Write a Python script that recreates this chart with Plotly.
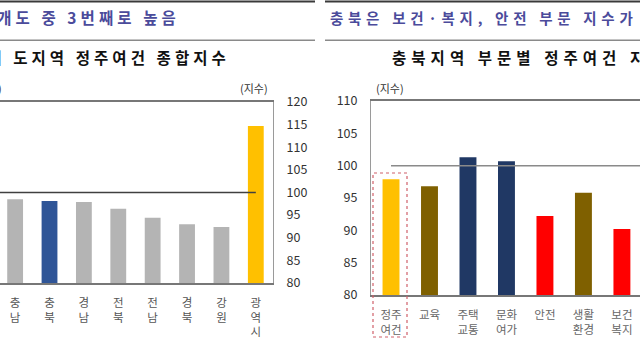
import plotly.graph_objects as go

# ---- data ----
left_cats = ["충<br>남", "충<br>북", "경<br>남", "전<br>북", "전<br>남", "경<br>북", "강<br>원", "광<br>역<br>시"]
left_vals = [98.5, 98.1, 97.9, 96.4, 94.4, 93.0, 92.4, 114.7]
left_colors = ["#b4b4b4", "#2f5597", "#b4b4b4", "#b4b4b4", "#b4b4b4", "#b4b4b4", "#b4b4b4", "#ffc000"]
left_ticks = [80, 85, 90, 95, 100, 105, 110, 115, 120]

right_cats = ["정주<br>여건", "교육", "주택<br>교통", "문화<br>여가", "안전", "생활<br>환경", "보건<br>복지"]
right_vals = [97.9, 96.8, 101.3, 100.7, 92.2, 95.8, 90.2]
right_colors = ["#ffc000", "#7f6000", "#203864", "#203864", "#ff0000", "#7f6000", "#ff0000"]
right_ticks = [80, 85, 90, 95, 100, 105, 110]

baseline = 100

W, H = 640, 360
def px(x): return x / W
def py(y): return 1 - y / H

THIN = "\u2009"
WIDE = "\u2009\u200a"
WIDER = "\u2009\u200a\u200a"
def spaced(s, sep=THIN):
    # emulate letter-spacing with thin spaces
    return sep.join(list(s.replace(" ", "\u00a0")))

FONT = "Noto Sans CJK KR"

fig = go.Figure()
fig.add_trace(go.Bar(x=left_cats, y=left_vals, marker=dict(color=left_colors, line=dict(width=0)),
                     width=0.46, xaxis="x", yaxis="y", showlegend=False, hoverinfo="skip"))
fig.add_trace(go.Bar(x=right_cats, y=right_vals, marker=dict(color=right_colors, line=dict(width=0)),
                     width=0.44, xaxis="x2", yaxis="y2", showlegend=False, hoverinfo="skip"))

axis_line = "#9a9a9a"
fig.update_layout(
    width=W, height=H, margin=dict(l=0, r=0, t=0, b=0, autoexpand=False),
    paper_bgcolor="white", plot_bgcolor="white",
    font=dict(family=FONT, color="#333333"),
    xaxis=dict(domain=[0, px(273)], range=[-0.44, 7.5], showgrid=False, showline=True,
               linecolor="#777777", linewidth=1.5, mirror=True, ticks="", automargin=False,
               tickfont=dict(size=11.5, color="#555555"), ticklabelstandoff=8, fixedrange=True),
    yaxis=dict(domain=[py(283), py(102)], range=[80, 120], side="right", tickvals=left_ticks,
               showgrid=False, showline=True, linecolor=axis_line, linewidth=1, zeroline=False,
               automargin=False,
               tickfont=dict(size=12.5, color="#333333"), ticklabelstandoff=10, anchor="x"),
    xaxis2=dict(domain=[px(371), 1], range=[-0.52, 6.47], showgrid=False, showline=True,
                linecolor="#777777", linewidth=1.5, mirror=True, ticks="", anchor="y2", automargin=False,
                tickfont=dict(size=11.5, color="#666666"), ticklabelstandoff=8),
    yaxis2=dict(domain=[py(295), py(101)], range=[80, 110], side="left", tickvals=right_ticks,
                showgrid=False, showline=True, linecolor=axis_line, linewidth=1, zeroline=False,
                automargin=False,
                tickfont=dict(size=12.5, color="#333333"), ticklabelstandoff=10, anchor="x2"),
)

shapes = []
# baseline 100 lines
shapes.append(dict(type="line", xref="x", yref="y", x0=-0.44, x1=7, y0=baseline, y1=baseline,
                   line=dict(color="#404040", width=1.5)))
shapes.append(dict(type="line", xref="x2", yref="y2", x0=0, x1=6.47, y0=baseline, y1=baseline,
                   line=dict(color="#8a8a8a", width=1.5)))
# header rules (thin filled rects)
for (a, b) in [(0, 315), (325, 640)]:
    shapes.append(dict(type="rect", xref="paper", yref="paper", x0=px(a), x1=px(b), y0=py(2.5), y1=py(0.5),
                       fillcolor="#3a3a3a", line=dict(width=0)))
    shapes.append(dict(type="rect", xref="paper", yref="paper", x0=px(a), x1=px(b), y0=py(41), y1=py(39.5),
                       fillcolor="#8a8a8a", line=dict(width=0)))
# dotted highlight box
shapes.append(dict(type="rect", xref="paper", yref="paper", x0=px(373), x1=px(407), y0=py(337), y1=py(173),
                   line=dict(color="#d0606a", width=1.2, dash="dot")))
fig.update_layout(shapes=shapes)

blue = "#4b4b9b"
ann = [
    dict(text="<b>" + spaced("9개도 중 3번째로 높음", WIDE) + "</b>", x=px(178), y=py(17), xanchor="right",
         font=dict(size=15.5, color=blue)),
    dict(text="<b>" + spaced("9개 도지역 정주여건 종합지수", WIDE) + "</b>", x=px(228), y=py(57), xanchor="right",
         font=dict(size=15.5, color="#111111")),
    dict(text="(지수)", x=px(4), y=py(88), xanchor="right", font=dict(size=11, color="#333333")),
    dict(text="(지수)", x=px(254), y=py(88), xanchor="center", font=dict(size=11, color="#333333")),
    dict(text="<b>" + spaced("충북은 보건·복지, 안전 부문 지수가 전국 평균보다 낮음", WIDER) + "</b>", x=px(328), y=py(17),
         xanchor="left", font=dict(size=14.5, color=blue)),
    dict(text="<b>" + spaced("충북지역 부문별 정주여건 지수", WIDER) + "</b>", x=px(390), y=py(57), xanchor="left",
         font=dict(size=15.5, color="#111111")),
    dict(text="(지수)", x=px(390), y=py(88), xanchor="center", font=dict(size=11, color="#333333")),
]
for a in ann:
    a.update(xref="paper", yref="paper", yanchor="middle", showarrow=False)
fig.update_layout(annotations=ann)

fig.write_html("out.html", config={"displayModeBar": False},
               post_script="document.body.style.margin='0';document.body.style.overflow='hidden';")
